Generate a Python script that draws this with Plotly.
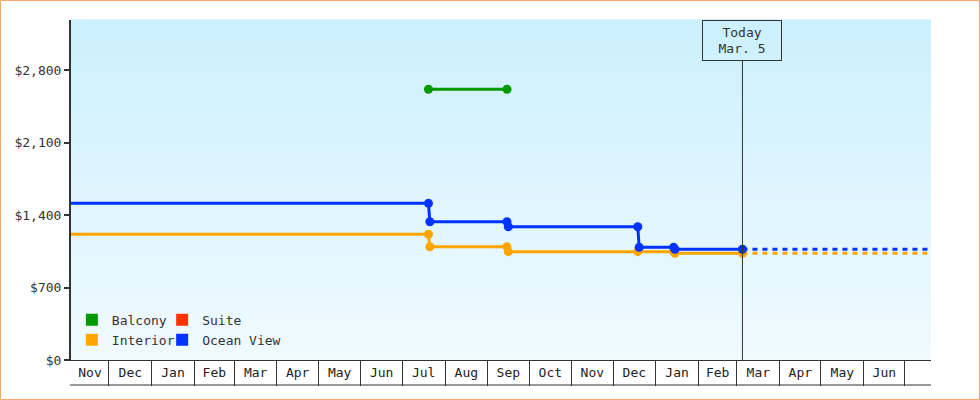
import plotly.graph_objects as go
import pandas as pd

# ---------------- data ----------------
month_labels = ["Nov", "Dec", "Jan", "Feb", "Mar", "Apr", "May", "Jun", "Jul", "Aug",
                "Sep", "Oct", "Nov", "Dec", "Jan", "Feb", "Mar", "Apr", "May", "Jun"]
first_month = "2023-11-01"
range_start = "2023-11-03 10:00"
range_end = "2025-07-19 22:00"
today = "2025-03-05"
today_label = "Today<br>Mar. 5"

y_ticks = [0, 700, 1400, 2100, 2800]
y_tick_labels = ["$0", "$700", "$1,400", "$2,100", "$2,800"]
y_max = 3283

balcony_dates = ["2024-07-20", "2024-09-15"]
balcony_prices = [2614, 2614]

suite_dates = []
suite_prices = []

interior_dates = ["2023-11-03", "2024-07-20", "2024-07-21", "2024-09-15", "2024-09-16",
                  "2024-12-19", "2025-01-14", "2025-01-15", "2025-03-05"]
interior_prices = [1214, 1214, 1094, 1094, 1046, 1046, 1046, 1030, 1030]

ocean_dates = ["2023-11-03", "2024-07-20", "2024-07-21", "2024-09-15", "2024-09-16",
               "2024-12-19", "2024-12-20", "2025-01-14", "2025-01-15", "2025-03-05"]
ocean_prices = [1513, 1513, 1335, 1335, 1287, 1287, 1088, 1088, 1069, 1069]

colors = {"Balcony": "#009900", "Suite": "#ff3300", "Interior": "#ffa500", "Ocean View": "#0033ff"}

FONT = "DejaVu Sans Mono"
W, H = 980, 400
ML, MR, MT, MB = 71, 49, 20, 40

# ---------------- figure ----------------
fig = go.Figure()

# gradient background of plot area
n = 68
top = (204, 240, 254)
bot = (240, 250, 255)
for i in range(n):
    t = (i + 0.5) / n
    c = tuple(round(bot[k] + (top[k] - bot[k]) * t) for k in range(3))
    fig.add_shape(type="rect", xref="x domain", yref="y domain", x0=0, x1=1,
                  y0=i / n, y1=(i + 1) / n + 0.002, fillcolor="rgb(%d,%d,%d)" % c,
                  line_width=0, layer="below")

def series(name, dates, prices):
    if not dates:
        return
    fig.add_trace(go.Scatter(x=dates, y=prices, mode="lines+markers", name=name,
                             line=dict(color=colors[name], width=3),
                             marker=dict(color=colors[name], size=9, symbol="circle"),
                             cliponaxis=False, showlegend=False, hoverinfo="skip"))

def projection(name, prices):
    fig.add_trace(go.Scatter(x=[today, range_end], y=[prices[-1], prices[-1]], mode="lines",
                             line=dict(color=colors[name], width=3, dash="5px,5px"),
                             showlegend=False, hoverinfo="skip"))

series("Interior", interior_dates, interior_prices)
projection("Interior", interior_prices)
series("Ocean View", ocean_dates, ocean_prices)
projection("Ocean View", ocean_prices)
series("Balcony", balcony_dates, balcony_prices)
series("Suite", suite_dates, suite_prices)

# legend entries (square swatches)
for name, leg in [("Balcony", "legend"), ("Interior", "legend"),
                  ("Suite", "legend2"), ("Ocean View", "legend2")]:
    fig.add_trace(go.Scatter(x=[None], y=[None], mode="markers", name=name,
                             marker=dict(symbol="square", size=12, color=colors[name]),
                             legend=leg, showlegend=True))

# month label positions: middle of the visible part of each month
starts = pd.date_range(first_month, periods=len(month_labels) + 1, freq="MS")
rs, re_ = pd.Timestamp(range_start), pd.Timestamp(range_end)
label_pos = []
for i in range(len(month_labels)):
    a = max(starts[i], rs)
    b = min(starts[i + 1], re_)
    label_pos.append(a + (b - a) / 2)

# today marker line + box
fig.add_shape(type="line", xref="x", yref="y domain", x0=today, x1=today,
              y0=0, y1=(H - MB - 61) / (H - MT - MB), line=dict(color="#333333", width=1))
fig.add_annotation(x=today, xref="x", y=1, yref="paper", yanchor="top", xanchor="center",
                   text=today_label, showarrow=False, bordercolor="#333333", borderwidth=1,
                   borderpad=0, width=78, height=39, font=dict(family=FONT, size=13, color="#333333"))

# bottom line of month cells
fig.add_shape(type="line", xref="x domain", yref="y domain", x0=-0.001, x1=1,
              y0=-25 / (H - MT - MB), y1=-25 / (H - MT - MB), line=dict(color="#333333", width=1))

# outer border
pw, ph = W - ML - MR, H - MT - MB
fig.add_shape(type="rect", xref="paper", yref="paper",
              x0=(0.5 - ML) / pw, x1=(W - 0.5 - ML) / pw,
              y0=(H - MB - (H - 0.5)) / ph, y1=(H - MB - 0.5) / ph,
              line=dict(color="#eeaa66", width=1), fillcolor="rgba(0,0,0,0)")

fig.update_layout(
    width=W, height=H,
    margin=dict(l=ML, r=MR, t=MT, b=MB, pad=0),
    paper_bgcolor="white", plot_bgcolor="rgb(222,245,255)",
    font=dict(family=FONT, size=13, color="#333333"),
    legend=dict(x=0.001, y=0.162, xanchor="left", yanchor="top", bgcolor="rgba(0,0,0,0)",
                font=dict(family=FONT, size=13, color="#333333"), tracegroupgap=0,
                itemwidth=30),
    legend2=dict(x=0.106, y=0.162, xanchor="left", yanchor="top", bgcolor="rgba(0,0,0,0)",
                 font=dict(family=FONT, size=13, color="#333333"), tracegroupgap=0,
                 itemwidth=30),
    xaxis=dict(type="date", range=[range_start, range_end], showgrid=False, zeroline=False,
               showline=True, linecolor="#333333", linewidth=1,
               tickmode="array", tickvals=label_pos, ticktext=month_labels, ticks="",
               tickfont=dict(family=FONT, size=13, color="#222222"),
               minor=dict(tickmode="linear", tick0=first_month, dtick="M1", ticks="outside",
                          ticklen=25, tickcolor="#333333", tickwidth=1, showgrid=False)),
    yaxis=dict(range=[0, y_max], showgrid=False, zeroline=False, showline=True,
               linecolor="#333333", linewidth=2, ticks="outside", ticklen=5, tickwidth=2,
               tickcolor="#333333", tickmode="array", tickvals=y_ticks, ticktext=y_tick_labels,
               tickfont=dict(family=FONT, size=13, color="#333333")),
)

fig.write_html("out.html", config={"displayModeBar": False},
               post_script="document.body.style.margin='0';")
